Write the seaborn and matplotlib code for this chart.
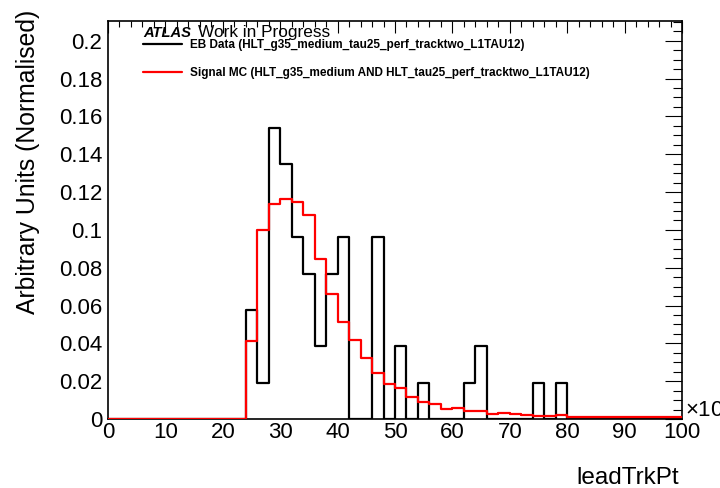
import numpy as np
import pandas as pd
import matplotlib
matplotlib.use("Agg")
import matplotlib.pyplot as plt
from matplotlib.ticker import MultipleLocator, FuncFormatter
from matplotlib.lines import Line2D
import seaborn as sns

# ---------------- data (normalised histograms, 2 GeV bins from 0 to 100 x10^3) -------------
bin_edges = [float(v) for v in range(0, 102, 2)]

eb_data = [0, 0, 0, 0, 0, 0, 0, 0, 0, 0, 0, 0,
           0.0577, 0.0192, 0.1538, 0.1346, 0.0962, 0.0769, 0.0385, 0.0769, 0.0962,
           0, 0, 0.0962, 0, 0.0385, 0, 0.0192, 0, 0, 0, 0.0192, 0.0385,
           0, 0, 0, 0, 0.0192, 0, 0.0192,
           0, 0, 0, 0, 0, 0, 0, 0, 0, 0]

signal_mc = [0, 0, 0, 0, 0, 0, 0, 0, 0, 0, 0, 0,
             0.0410, 0.0997, 0.1135, 0.1163, 0.1147, 0.1077, 0.0848, 0.0660, 0.0513,
             0.0418, 0.0320, 0.0244, 0.0186, 0.0165, 0.0116, 0.0090, 0.0077, 0.0054,
             0.0060, 0.0044, 0.0044, 0.0027, 0.0031, 0.0025, 0.0020, 0.0016, 0.0016,
             0.0020, 0.0008, 0.0008, 0.0008, 0.0008, 0.0008, 0.0008, 0.0008, 0.0008,
             0.0008, 0.0008]

series_labels = ["EB Data (HLT_g35_medium_tau25_perf_tracktwo_L1TAU12)",
                 "Signal MC (HLT_g35_medium AND HLT_tau25_perf_tracktwo_L1TAU12)"]
series_colors = ["black", "#ff0000"]
x_ticks = [0, 10, 20, 30, 40, 50, 60, 70, 80, 90, 100]
y_ticks = [0, 0.02, 0.04, 0.06, 0.08, 0.1, 0.12, 0.14, 0.16, 0.18, 0.2]

edges_arr = np.array(bin_edges)
centers = (edges_arr[:-1] + edges_arr[1:]) / 2

# ---------------- style ----------------
sns.set_theme(style="white")
plt.rcParams["font.family"] = ["Liberation Sans", "DejaVu Sans"]
plt.rcParams["mathtext.fontset"] = "custom"
plt.rcParams["mathtext.rm"] = "Liberation Sans"
plt.rcParams["text.color"] = "black"
plt.rcParams["axes.labelcolor"] = "black"
plt.rcParams["xtick.color"] = "black"
plt.rcParams["ytick.color"] = "black"

W, H = 720, 488
fig = plt.figure(figsize=(W / 100, H / 100), dpi=100)
L, R, T, B = 108, 682, 20.7, 419
ax = fig.add_axes([L / W, (H - B) / H, (R - L) / W, (B - T) / H])

for i, (vals, col) in enumerate(zip([eb_data, signal_mc], series_colors)):
    sns.histplot(x=list(centers), weights=list(vals), bins=bin_edges, element="step",
                 fill=False, color=col, linewidth=1.6, ax=ax, zorder=3 + i)

ax.set_xlim(0, 100)
ax.set_ylim(0, 0.2106)

ax.set_xticks(x_ticks)
ax.set_yticks(y_ticks)
ax.xaxis.set_minor_locator(MultipleLocator(2))
ax.yaxis.set_minor_locator(MultipleLocator(0.005))
ax.yaxis.set_major_formatter(FuncFormatter(lambda v, p: "%g" % round(v, 4)))
ax.xaxis.set_major_formatter(FuncFormatter(lambda v, p: "%g" % v))

ax.tick_params(which="both", direction="in", top=True, right=True,
               color="black", labelcolor="black", width=0.8, labelsize=16)
ax.tick_params(axis="x", which="major", length=8.6, pad=2)
ax.tick_params(axis="x", which="minor", length=4.3)
ax.tick_params(axis="y", which="major", length=12.3, pad=4)
ax.tick_params(axis="y", which="minor", length=6.2)
for s in ax.spines.values():
    s.set_linewidth(1.2)
    s.set_color("black")

# axis titles (ROOT style, aligned to the axis ends)
ax.set_xlabel("leadTrkPt", fontsize=17.5, loc="right", color="black")
ax.xaxis.label.set_va("baseline")
ax.xaxis.set_label_coords(0.995, -(484.5 - B) / (B - T))
ax.set_ylabel("Arbitrary Units (Normalised)", fontsize=17.8, loc="top", color="black")
ax.yaxis.set_label_coords(-(L - 40) / (R - L), (B - 10) / (B - T))

# x10^3 exponent marker
fig.text(685 / W, (H - 417) / H, "×10$^{3}$", fontsize=16, ha="left", va="baseline",
         color="black")

# ATLAS label
ax.text((143 - L) / (R - L), (B - 36.7) / (B - T), "ATLAS", transform=ax.transAxes,
        fontsize=10.6, fontweight="bold", fontstyle="italic", va="baseline", ha="left",
        color="black")
ax.text((198 - L) / (R - L), (B - 36.7) / (B - T), "Work in Progress", transform=ax.transAxes,
        fontsize=12.4, va="baseline", ha="left", color="black")

# legend
handles = [Line2D([0], [0], color=c, lw=1.6) for c in series_colors]
leg = ax.legend(handles, series_labels, loc="upper left",
                bbox_to_anchor=((143 - L) / (R - L), (B - 39) / (B - T)),
                frameon=False, borderpad=0, borderaxespad=0,
                handlelength=3.3, handletextpad=0.65, labelspacing=1.38,
                prop={"weight": "bold", "size": 8.5})
for t in leg.get_texts():
    t.set_color("black")

fig.savefig("out.png", dpi=100)
